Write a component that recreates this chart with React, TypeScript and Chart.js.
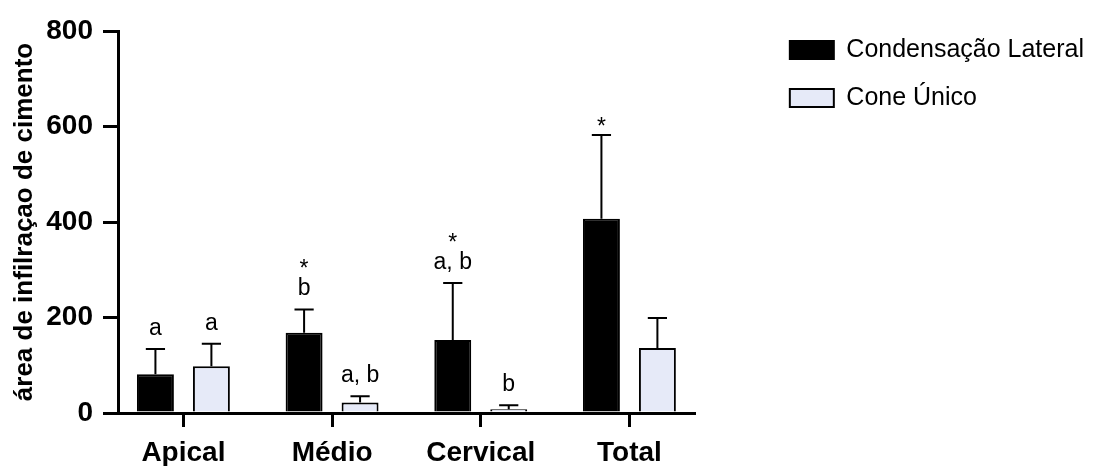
import { useEffect, useRef } from 'react';
import { Chart, registerables } from 'chart.js';

Chart.register(...registerables);

// ---- data ----
const categories = ['Apical', 'Médio', 'Cervical', 'Total'];
const seriesNames = ['Condensação Lateral', 'Cone Único'];
const condensacaoMean = [81, 168, 153, 407];
const condensacaoSD = [53, 49, 119, 175];
const coneMean = [98, 22, 8, 136];
const coneSD = [47, 13, 8, 63];
const condensacaoLetters = ['a', 'b', 'a, b', ''];
const condensacaoStars = ['', '*', '*', '*'];
const coneLetters = ['a', 'a, b', 'b', ''];
const coneStars = ['', '', '', ''];
const yMin = 0;
const yMax = 800;
const yStep = 200;
const yTitle = 'área de infilraçao de cimento';

const errorSets = [condensacaoSD, coneSD];
const letterSets = [condensacaoLetters, coneLetters];
const starSets = [condensacaoStars, coneStars];

const FONT = '"Liberation Sans", Arial, Helvetica, sans-serif';

const errorBarsPlugin = {
  id: 'errorBarsAndMarks',
  afterDatasetsDraw(chart: any) {
    const ctx = chart.ctx;
    const yScale = chart.scales.y;
    chart.data.datasets.forEach((ds: any, di: number) => {
      const meta = chart.getDatasetMeta(di);
      meta.data.forEach((bar: any, i: number) => {
        const p = bar.getProps(['x', 'y', 'width'], true);
        const value = ds.data[i].y;
        const capY = yScale.getPixelForValue(value + errorSets[di][i]);
        ctx.save();
        ctx.strokeStyle = '#000';
        ctx.lineWidth = 2;
        ctx.beginPath();
        ctx.moveTo(p.x, p.y);
        ctx.lineTo(p.x, capY);
        ctx.moveTo(p.x - p.width * 0.26, capY);
        ctx.lineTo(p.x + p.width * 0.26, capY);
        ctx.stroke();
        ctx.font = `23px ${FONT}`;
        ctx.fillStyle = '#000';
        ctx.textAlign = 'center';
        ctx.textBaseline = 'alphabetic';
        const letter = letterSets[di][i];
        const star = starSets[di][i];
        let base = capY - 14;
        if (letter) {
          ctx.fillText(letter, p.x, base);
          base -= 19;
        } else {
          base = capY - 1;
        }
        if (star) ctx.fillText(star, p.x, base);
        ctx.restore();
      });
    });
  },
};

export default function App() {
  const ref = useRef<HTMLCanvasElement | null>(null);

  useEffect(() => {
    if (!ref.current) return;
    Chart.defaults.font.family = FONT;
    Chart.defaults.color = '#000';
    const chart = new Chart(ref.current, {
      type: 'bar',
      data: {
        datasets: [
          {
            label: seriesNames[0],
            data: categories.map((_, i) => ({ x: i, y: condensacaoMean[i] })),
            backgroundColor: '#000000',
            borderColor: '#000000',
            borderWidth: 2,
            yAxisID: 'y',
            xAxisID: 'x',
          },
          {
            label: seriesNames[1],
            data: categories.map((_, i) => ({ x: i, y: coneMean[i] })),
            backgroundColor: '#e6eaf8',
            borderColor: '#000000',
            borderWidth: 2,
            yAxisID: 'y',
            xAxisID: 'x',
          },
        ],
      },
      options: {
        responsive: false,
        animation: false,
        devicePixelRatio: 1,
        categoryPercentage: 0.753,
        barPercentage: 0.66,
        layout: { padding: 0 },
        plugins: {
          tooltip: { enabled: false },
          legend: {
            position: 'right',
            align: 'start',
            maxWidth: 420,
            title: {
              display: true,
              text: '',
              padding: { top: 2.5, bottom: 0 },
              font: { size: 12, lineHeight: 1 },
            },
            labels: {
              boxWidth: 44,
              boxHeight: 18,
              padding: 23,
              color: '#000',
              font: { size: 25, family: FONT },
            },
          },
        },
        scales: {
          x: {
            type: 'linear',
            position: 'bottom',
            min: -0.44,
            max: 3.44,
            offset: false,
            afterFit: (s: any) => {
              s.height = 53;
            },
            border: { display: true, color: '#000', width: 3 },
            grid: {
              display: true,
              offset: false,
              drawOnChartArea: false,
              color: '#000',
              lineWidth: 3,
              tickLength: 14,
            },
            ticks: {
              stepSize: 1,
              includeBounds: false,
              autoSkip: false,
              maxRotation: 0,
              padding: 9,
              color: '#000',
              font: { size: 28, weight: 'bold', family: FONT },
              callback: (v: any) =>
                Number.isInteger(v) && categories[v] !== undefined ? categories[v] : '',
            },
          },
          y: {
            type: 'linear',
            position: 'left',
            min: yMin,
            max: yMax,
            afterFit: (s: any) => {
              s.width = 118;
              s.paddingTop = 31;
            },
            border: { display: true, color: '#000', width: 3 },
            grid: {
              display: true,
              drawOnChartArea: false,
              color: '#000',
              lineWidth: 3,
              tickLength: 15,
            },
            ticks: {
              stepSize: yStep,
              padding: 10,
              color: '#000',
              font: { size: 28, weight: 'bold', family: FONT },
            },
            title: {
              display: true,
              text: yTitle,
              color: '#000',
              padding: { top: 9, bottom: 0 },
              font: { size: 26, weight: 'bold', family: FONT },
            },
          },
          yR: {
            type: 'linear',
            position: 'right',
            display: true,
            afterFit: (s: any) => {
              s.width = 72;
            },
            border: { display: false },
            grid: { display: false },
            ticks: { display: false },
          },
        },
      } as any,
      plugins: [errorBarsPlugin],
    });
    return () => chart.destroy();
  }, []);

  return (
    <div style={{ position: 'fixed', left: 0, top: 0, width: 1094, height: 466, background: '#fff' }}>
      <canvas ref={ref} width={1094} height={466} style={{ display: 'block' }} />
    </div>
  );
}
